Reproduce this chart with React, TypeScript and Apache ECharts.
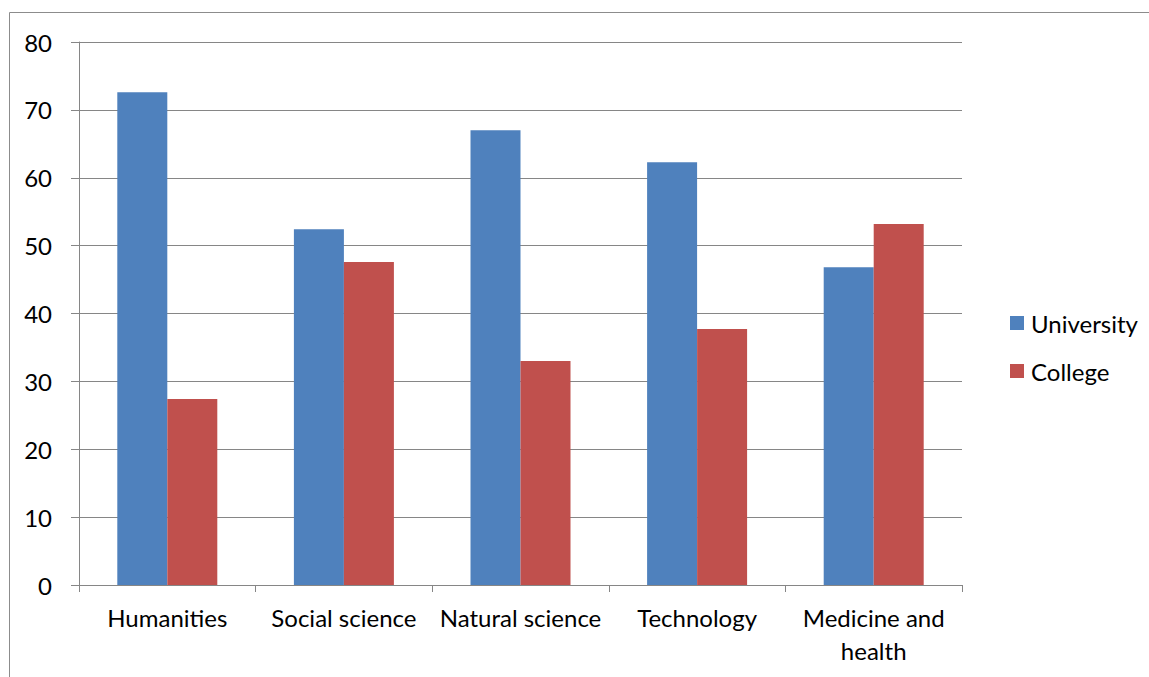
import React, { useEffect, useRef } from "react";
import * as echarts from "echarts";

const categories = ["Humanities", "Social science", "Natural science", "Technology", "Medicine and health"];
const university = [72.6, 52.4, 67.0, 62.3, 46.8];
const college = [27.4, 47.6, 33.0, 37.7, 53.2];
const yTicks = { min: 0, max: 80, interval: 10 };

const FONT = "Lato, 'Liberation Sans', sans-serif";

export default function App() {
  const ref = useRef<HTMLDivElement>(null);
  useEffect(() => {
    document.body.style.margin = "0";
    const chart = echarts.init(ref.current!, null, { renderer: "svg" });
    chart.setOption({
      animation: false,
      backgroundColor: "#ffffff",
      textStyle: { fontFamily: FONT, color: "#000" },
      graphic: [
        {
          type: "rect",
          shape: { x: 9.5, y: 12.5, width: 1200, height: 700 },
          style: { fill: "none", stroke: "#8c8c8c", lineWidth: 1 },
          silent: true,
        },
      ],
      grid: { left: 79, top: 42, right: 187, bottom: 92, containLabel: false },
      legend: {
        orient: "vertical",
        left: 1005,
        top: 306,
        itemWidth: 14,
        itemHeight: 14,
        itemGap: 24,
        icon: "rect",
        textStyle: { fontFamily: FONT, fontSize: 24, color: "#000", padding: [0, 0, 0, 2] },
        data: ["University", "College"],
      },
      xAxis: {
        type: "category",
        data: categories,
        axisLine: { lineStyle: { color: "#868686", width: 1 } },
        axisTick: { show: true, length: 7, lineStyle: { color: "#868686" } },
        axisLabel: {
          fontFamily: FONT,
          fontSize: 24,
          color: "#000",
          margin: 16,
          lineHeight: 33,
          interval: 0,
          formatter: (v: string) => (v === "Medicine and health" ? "Medicine and\nhealth" : v),
        },
      },
      yAxis: {
        type: "value",
        min: yTicks.min,
        max: yTicks.max,
        interval: yTicks.interval,
        axisLine: { show: true, lineStyle: { color: "#868686", width: 1 } },
        axisTick: { show: true, length: 8, lineStyle: { color: "#868686" } },
        axisLabel: { fontFamily: FONT, fontSize: 24, color: "#000", margin: 27 },
        splitLine: { lineStyle: { color: "#868686", width: 1 } },
      },
      series: [
        {
          name: "University",
          type: "bar",
          data: university,
          barWidth: 50,
          barGap: "0%",
          itemStyle: { color: "#4F81BD" },
        },
        {
          name: "College",
          type: "bar",
          data: college,
          barWidth: 50,
          barGap: "0%",
          itemStyle: { color: "#C0504D" },
        },
      ],
    });
    return () => chart.dispose();
  }, []);
  return <div ref={ref} style={{ width: 1149, height: 677 }} />;
}
